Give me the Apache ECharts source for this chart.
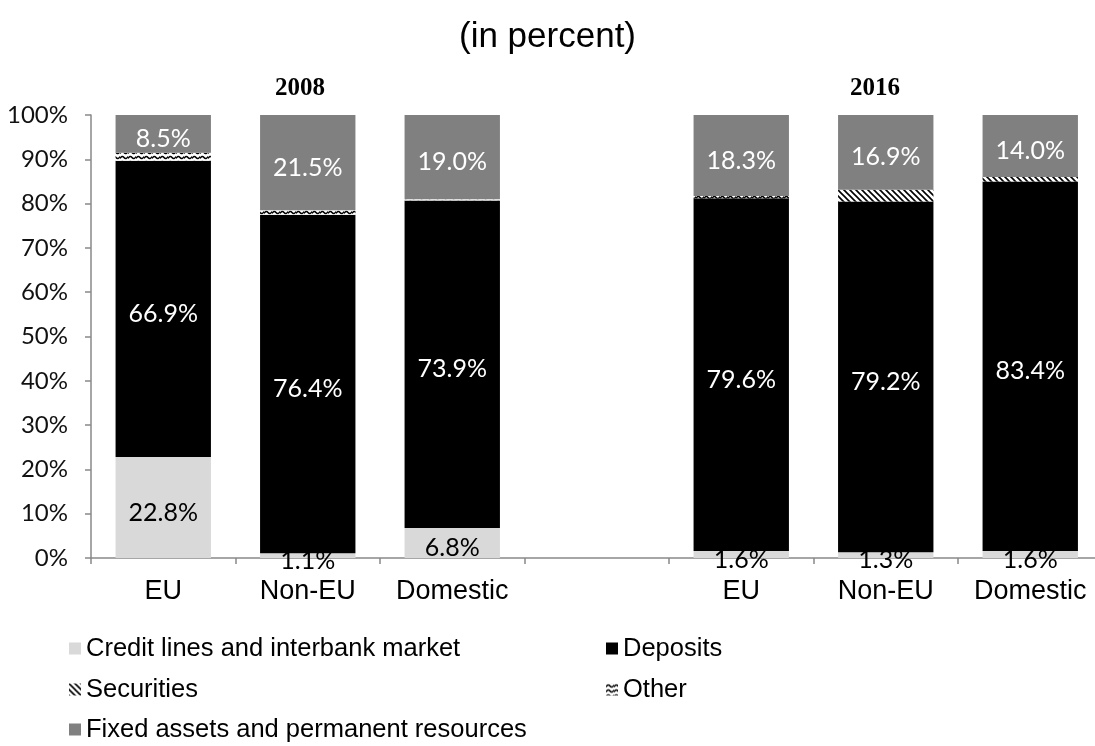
<!DOCTYPE html>
<html>
<head>
<meta charset="utf-8">
<script src="https://cdn.jsdelivr.net/npm/echarts@6/dist/echarts.min.js"></script>
<style>
  html, body { margin: 0; padding: 0; background: #fff; }
  #chart { width: 1095px; height: 746px; }
</style>
</head>
<body>
<div id="chart"></div>
<script>
// Funding structure by bank group, 2008 vs 2016 (shares of total, %)
const categories = ['EU', 'Non-EU', 'Domestic', '', 'EU', 'Non-EU', 'Domestic'];
const yearLabels = ['2008', '2016'];
const creditLines = [22.8, 1.1, 6.8, null, 1.6, 1.3, 1.6];
const deposits    = [66.9, 76.4, 73.9, null, 79.6, 79.2, 83.4];
const securities  = [0.0, 0.0, 0.0, null, 0.0, 2.6, 1.0];
const other       = [1.8, 1.0, 0.3, null, 0.5, 0.0, 0.0];
const fixedAssets = [8.5, 21.5, 19.0, null, 18.3, 16.9, 14.0];
const yTicks = [0, 10, 20, 30, 40, 50, 60, 70, 80, 90, 100];

const seriesNames = [
  'Credit lines and interbank market',
  'Deposits',
  'Securities',
  'Other',
  'Fixed assets and permanent resources'
];

// Hatch fill: black diagonal strokes on white
function hatchPattern() {
  const c = document.createElement('canvas');
  c.width = 6; c.height = 6;
  const g = c.getContext('2d');
  g.fillStyle = '#fff'; g.fillRect(0, 0, 6, 6);
  g.strokeStyle = '#000'; g.lineWidth = 1.6;
  g.beginPath();
  g.moveTo(-1, -1); g.lineTo(7, 7);
  g.moveTo(-4, 2); g.lineTo(2, 8);
  g.moveTo(2, -4); g.lineTo(8, 2);
  g.stroke();
  return c;
}

// Wave fill: black zigzag rows on white
function wavePattern() {
  const c = document.createElement('canvas');
  c.width = 8; c.height = 5;
  const g = c.getContext('2d');
  g.fillStyle = '#fff'; g.fillRect(0, 0, 8, 5);
  g.strokeStyle = '#000'; g.lineWidth = 1.5;
  g.beginPath();
  g.moveTo(0, 3.5); g.quadraticCurveTo(2, 0, 4, 2.5); g.quadraticCurveTo(6, 5, 8, 1.5);
  g.stroke();
  return c;
}

const FONT_SANS = '"Liberation Sans", Arial, sans-serif';
const FONT_NUM = 'Lato, "Noto Sans", sans-serif';

function valueLabel(color) {
  return {
    show: true,
    position: 'inside',
    offset: [0, 5],
    color: color,
    fontFamily: FONT_NUM,
    fontSize: 25,
    formatter: p => (p.value == null || p.value === 0) ? '' : p.value.toFixed(1) + '%'
  };
}

function barSeries(name, data, color, label) {
  return {
    name: name,
    type: 'bar',
    stack: 'total',
    barCategoryGap: '34%',
    data: data,
    itemStyle: { color: color },
    label: label || { show: false },
    emphasis: { disabled: true },
    animation: false
  };
}

// One legend entry placed at a fixed spot (two columns, three rows)
function legendEntry(name, left, centerY) {
  return {
    orient: 'horizontal',
    left: left,
    top: centerY - 12.5,
    padding: 0,
    itemWidth: 12,
    itemHeight: 12,
    icon: 'rect',
    data: [name],
    textStyle: { fontFamily: FONT_SANS, fontSize: 25.5, lineHeight: 25, color: '#000' },
    selectedMode: false
  };
}

const chart = echarts.init(document.getElementById('chart'), null, { renderer: 'canvas' });

chart.setOption({
  animation: false,
  backgroundColor: '#ffffff',
  title: {
    text: '(in percent)',
    left: 'center',
    top: 15,
    textStyle: { fontFamily: FONT_SANS, fontSize: 35, fontWeight: 'normal', color: '#000' }
  },
  grid: { left: 91, top: 115, width: 1011.5, height: 443, containLabel: false, outerBoundsMode: 'none' },
  xAxis: {
    type: 'category',
    data: categories,
    axisLine: { lineStyle: { color: '#898989', width: 1.5 } },
    axisTick: { show: true, length: 6, lineStyle: { color: '#898989', width: 1.5 } },
    axisLabel: { color: '#000', fontFamily: FONT_SANS, fontSize: 27, margin: 20, interval: 0 }
  },
  yAxis: {
    type: 'value',
    min: yTicks[0],
    max: yTicks[yTicks.length - 1],
    interval: yTicks[1] - yTicks[0],
    splitLine: { show: false },
    axisLine: { show: true, lineStyle: { color: '#898989', width: 1.5 } },
    axisTick: { show: true, length: 6, lineStyle: { color: '#898989', width: 1.5 } },
    axisLabel: { color: '#111', fontFamily: FONT_NUM, fontSize: 24, margin: 23, formatter: '{value}%' }
  },
  legend: [
    legendEntry(seriesNames[0], 69, 648),
    legendEntry(seriesNames[1], 606, 648),
    legendEntry(seriesNames[2], 69, 689),
    legendEntry(seriesNames[3], 606, 689),
    legendEntry(seriesNames[4], 69, 729)
  ],
  graphic: [
    { type: 'text', x: 300, y: 89, style: { text: yearLabels[0], textAlign: 'center', textVerticalAlign: 'middle', font: 'bold 25px "Liberation Serif", "Times New Roman", serif', fill: '#000' } },
    { type: 'text', x: 875, y: 89, style: { text: yearLabels[1], textAlign: 'center', textVerticalAlign: 'middle', font: 'bold 25px "Liberation Serif", "Times New Roman", serif', fill: '#000' } }
  ],
  series: [
    barSeries(seriesNames[0], creditLines, '#d9d9d9', valueLabel('#000')),
    barSeries(seriesNames[1], deposits, '#000000', valueLabel('#fff')),
    barSeries(seriesNames[2], securities, { image: hatchPattern(), repeat: 'repeat' }),
    barSeries(seriesNames[3], other, { image: wavePattern(), repeat: 'repeat' }),
    barSeries(seriesNames[4], fixedAssets, '#808080', valueLabel('#fff'))
  ]
});
</script>
</body>
</html>
